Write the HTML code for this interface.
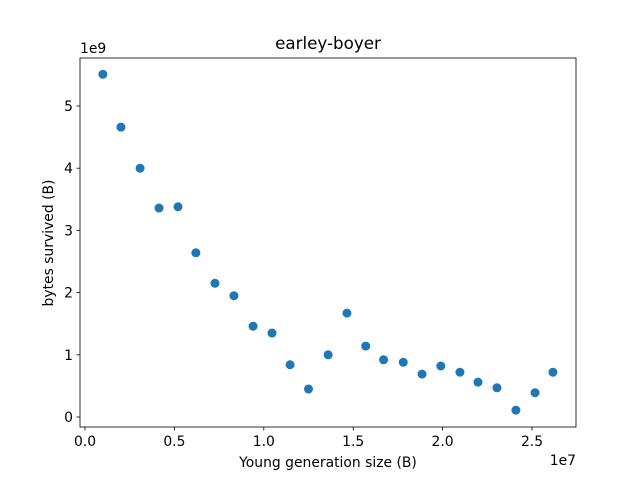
<!DOCTYPE html>
<html><head><meta charset="utf-8"><style>
body{margin:0;background:#fff;}
svg text{font-family:"DejaVu Sans","Liberation Sans",sans-serif;fill:#000;}
</style></head><body>
<svg id="chart" width="640" height="480" xmlns="http://www.w3.org/2000/svg">
<rect width="640" height="480" fill="#fff"/>
<g id="plot"></g>
</svg>
<script>
const xValues=[1.0,2.01,3.08,4.14,5.2,6.2,7.27,8.33,9.4,10.46,11.47,12.5,13.6,14.65,15.7,16.7,17.8,18.85,19.9,20.97,21.98,23.04,24.1,25.17,26.17];
const yValues=[5.51,4.66,4.00,3.36,3.38,2.64,2.15,1.95,1.46,1.35,0.84,0.45,1.0,1.67,1.14,0.92,0.88,0.69,0.82,0.72,0.56,0.47,0.11,0.39,0.72];
const xTicks=[0,5,10,15,20,25];
const xTickLabels=["0.0","0.5","1.0","1.5","2.0","2.5"];
const yTicks=[0,1,2,3,4,5];
const yTickLabels=["0","1","2","3","4","5"];
const L=80,R=576,T=58,B=427;
const sx=v=>85+v*17.88;
const sy=v=>417-v*62.2;
const NS="http://www.w3.org/2000/svg";
const g=document.getElementById('plot');
function mk(tag,attrs,text){const e=document.createElementNS(NS,tag);for(const k in attrs)e.setAttribute(k,attrs[k]);if(text!==undefined)e.textContent=text;g.appendChild(e);return e;}
xValues.forEach((x,i)=>{
const c=mk('circle',{cx:sx(x),cy:sy(yValues[i]),r:4.5,fill:'#1f77b4'});


});
const frame=mk('rect',{x:L,y:T,width:R-L,height:B-T,fill:'none',stroke:'#000','stroke-width':0.8});


xTicks.forEach((t,i)=>{
const x=sx(t);
mk('line',{x1:x,x2:x,y1:B,y2:B+3.5,stroke:'#000','stroke-width':0.8});
const tx=mk('text',{x:x,y:B+19,'font-size':13.9,'text-anchor':'middle'},xTickLabels[i]);


});
yTicks.forEach((t,i)=>{
const y=sy(t);
mk('line',{x1:L-3.5,x2:L,y1:y,y2:y,stroke:'#000','stroke-width':0.8});
const tx=mk('text',{x:L-7,y:y+5,'font-size':13.9,'text-anchor':'end'},yTickLabels[i]);


});
const t1=mk('text',{x:328,y:49,'font-size':16.7,'text-anchor':'middle'},'earley-boyer');


const t2=mk('text',{x:328,y:467,'font-size':13.9,'text-anchor':'middle'},'Young generation size (B)');


const t3=mk('text',{x:53,y:243,'font-size':13.9,'text-anchor':'middle',transform:'rotate(-90 53 243)'},'bytes survived (B)');


const t4=mk('text',{x:80,y:53,'font-size':13.9},'1e9');


const t5=mk('text',{x:576,y:465,'font-size':13.9,'text-anchor':'end'},'1e7');


</script>
</body></html>
